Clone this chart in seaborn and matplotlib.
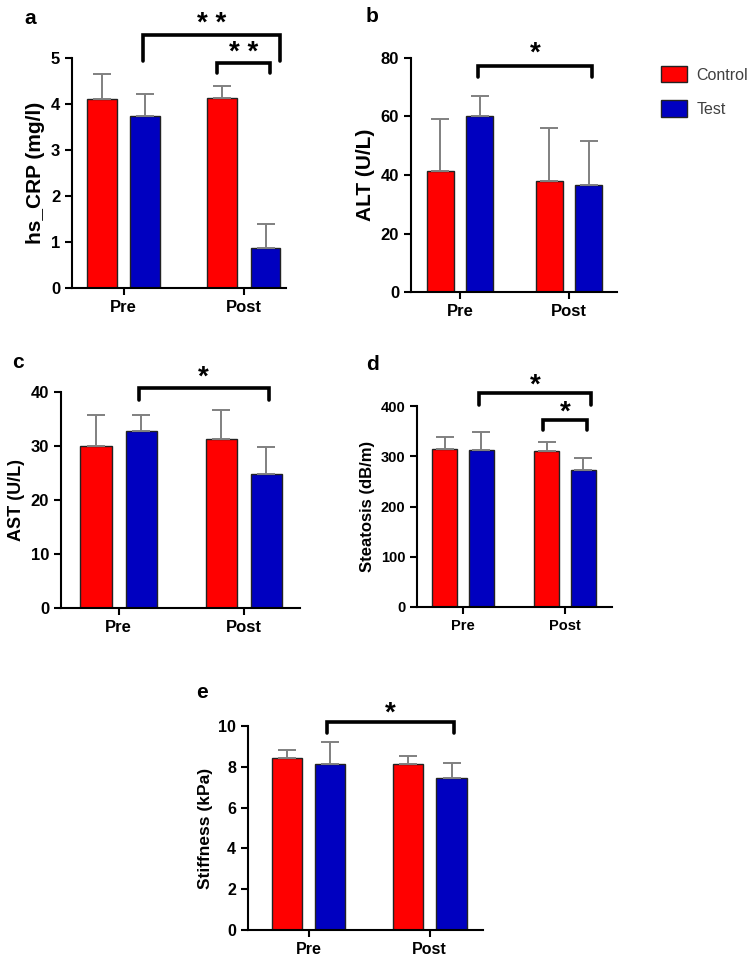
"""
Control vs Test bar charts (Pre / Post) for five liver markers.
"""

import matplotlib.pyplot as plt
import pandas as pd
import seaborn as sns
from matplotlib.patches import Patch

# ==========================================================
# Data
# ==========================================================

TIMES = ["Pre", "Post"]
GROUPS = ["Control", "Test"]

CRP_CONTROL = [4.10, 4.13]
CRP_CONTROL_SD = [0.55, 0.27]
CRP_TEST = [3.75, 0.87]
CRP_TEST_SD = [0.47, 0.53]

ALT_CONTROL = [41.5, 38.0]
ALT_CONTROL_SD = [17.5, 18.0]
ALT_TEST = [60.0, 36.5]
ALT_TEST_SD = [7.0, 15.0]

AST_CONTROL = [30.0, 31.3]
AST_CONTROL_SD = [5.7, 5.4]
AST_TEST = [32.8, 24.9]
AST_TEST_SD = [3.0, 5.0]

STEATOSIS_CONTROL = [315, 311]
STEATOSIS_CONTROL_SD = [23, 18]
STEATOSIS_TEST = [313, 272]
STEATOSIS_TEST_SD = [35, 24]

STIFFNESS_CONTROL = [8.45, 8.15]
STIFFNESS_CONTROL_SD = [0.35, 0.40]
STIFFNESS_TEST = [8.15, 7.45]
STIFFNESS_TEST_SD = [1.05, 0.75]

# ==========================================================
# Style
# ==========================================================

COLORS = {"Control": "#FF0000", "Test": "#0000C0"}
ERR_COLOR = "#808080"

sns.set_style("ticks")
plt.rcParams["font.family"] = ["Liberation Sans", "DejaVu Sans"]
plt.rcParams["font.weight"] = "bold"
plt.rcParams["text.color"] = "black"
plt.rcParams["axes.labelcolor"] = "black"
plt.rcParams["xtick.color"] = "black"
plt.rcParams["ytick.color"] = "black"

W, H = 751, 958


def build_frame(control, test):
    return pd.DataFrame({
        "time": TIMES * 2,
        "group": ["Control"] * 2 + ["Test"] * 2,
        "value": list(control) + list(test),
    })


def draw_panel(fig, box, control, control_sd, test, test_sd,
               ylabel, yticks, xlim, brackets, label_size, tick_size):
    left, top, right, bottom = box
    ax = fig.add_axes([left / W, 1 - bottom / H,
                       (right - left) / W, (bottom - top) / H])

    df = build_frame(control, test)

    sns.barplot(
        data=df, x="time", y="value", hue="group",
        order=TIMES, hue_order=GROUPS, palette=COLORS,
        errorbar=None, width=0.72, gap=0.31, saturation=1,
        edgecolor="#222222", linewidth=1.0, legend=False, ax=ax
    )

    # one-sided error bars on top of each bar
    for container, sds in zip(ax.containers, [control_sd, test_sd]):
        for bar, sd in zip(container, sds):
            x = bar.get_x() + bar.get_width() / 2
            ax.errorbar(
                x, bar.get_height(), yerr=[[0], [sd]],
                fmt="none", ecolor=ERR_COLOR, elinewidth=1.4,
                capsize=6.5, capthick=1.4, zorder=1
            )

    # significance brackets
    for x0, x1, y_top, y_end, text, y_text in brackets:
        ax.plot([x0, x0, x1, x1], [y_end, y_top, y_top, y_end],
                color="black", lw=2.6, clip_on=False,
                solid_joinstyle="miter")
        ax.annotate(text, ((x0 + x1) / 2, y_text), xytext=(0, -4),
                    textcoords="offset points", ha="center", va="center",
                    fontsize=20, fontweight="bold", annotation_clip=False)

    ax.set_xlim(*xlim)
    ax.set_ylim(yticks[0], yticks[-1])
    ax.set_yticks(yticks)
    ax.set_xlabel("")
    ax.set_ylabel(ylabel, fontsize=label_size, fontweight="bold")
    ax.tick_params(axis="both", width=1.5, length=5,
                   labelsize=tick_size, direction="out")
    for lab in ax.get_xticklabels() + ax.get_yticklabels():
        lab.set_fontweight("bold")

    sns.despine(ax=ax)
    for side in ["left", "bottom"]:
        ax.spines[side].set_linewidth(1.5)
        ax.spines[side].set_color("black")

    return ax


def main():
    fig = plt.figure(figsize=(W / 100, H / 100), dpi=100)

    # a
    draw_panel(
        fig, (72, 58, 286, 288),
        CRP_CONTROL, CRP_CONTROL_SD, CRP_TEST, CRP_TEST_SD,
        "hs_CRP (mg/l)", [0, 1, 2, 3, 4, 5], (-0.43, 1.35),
        [(0.16, 1.30, 5.5, 4.93, "* *", 5.85),
         (0.775, 1.22, 4.89, 4.67, "* *", 5.22)],
        15, 12
    )

    # b
    draw_panel(
        fig, (411, 58, 617, 292),
        ALT_CONTROL, ALT_CONTROL_SD, ALT_TEST, ALT_TEST_SD,
        "ALT (U/L)", [0, 20, 40, 60, 80], (-0.45, 1.44),
        [(0.165, 1.21, 77.3, 73.5, "*", 83.4)],
        15, 12
    )

    # c
    draw_panel(
        fig, (61, 392, 300, 608),
        AST_CONTROL, AST_CONTROL_SD, AST_TEST, AST_TEST_SD,
        "AST (U/L)", [0, 10, 20, 30, 40], (-0.46, 1.45),
        [(0.16, 1.20, 40.7, 38.5, "*", 43.7)],
        13, 12
    )

    # d
    draw_panel(
        fig, (417, 406, 612, 607),
        STEATOSIS_CONTROL, STEATOSIS_CONTROL_SD,
        STEATOSIS_TEST, STEATOSIS_TEST_SD,
        "Steatosis (dB/m)", [0, 100, 200, 300, 400], (-0.45, 1.46),
        [(0.16, 1.25, 426, 402, "*", 452),
         (0.78, 1.22, 372, 352, "*", 398)],
        12, 10.5
    )

    # e
    draw_panel(
        fig, (248, 726, 483, 930),
        STIFFNESS_CONTROL, STIFFNESS_CONTROL_SD,
        STIFFNESS_TEST, STIFFNESS_TEST_SD,
        "Stiffness (kPa)", [0, 2, 4, 6, 8, 10], (-0.50, 1.44),
        [(0.15, 1.20, 10.2, 9.66, "*", 10.9)],
        12.5, 11.5
    )

    # panel letters
    for letter, x, y in [("a", 24, 18), ("b", 366, 16), ("c", 12, 362),
                         ("d", 366, 364), ("e", 196, 692)]:
        fig.text(x / W, 1 - y / H, letter, fontsize=15, fontweight="bold",
                 ha="left", va="center")

    handles = [Patch(facecolor=COLORS[g], edgecolor="#222222", linewidth=1.0)
               for g in GROUPS]
    fig.legend(
        handles, GROUPS, loc="upper left",
        bbox_to_anchor=(661 / W, 1 - 66 / H), frameon=False,
        borderpad=0, borderaxespad=0,
        handlelength=1.6, handleheight=1.2, handletextpad=0.6,
        labelspacing=1.1,
        prop={"size": 11.5, "weight": "normal"}, labelcolor="#404040"
    )

    fig.savefig("out.png", dpi=100)
    plt.close(fig)


if __name__ == "__main__":
    main()
